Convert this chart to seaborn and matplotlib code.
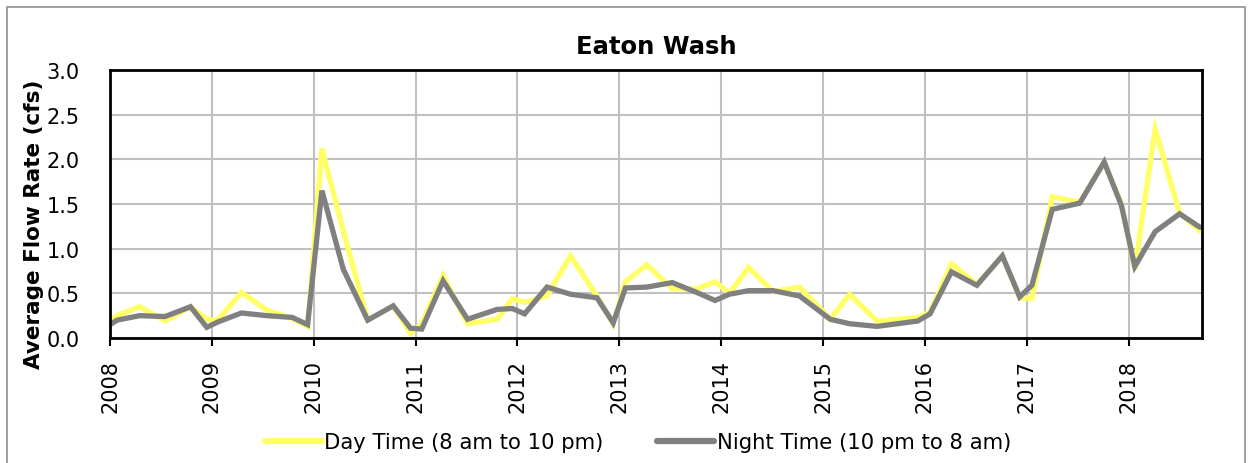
import matplotlib
matplotlib.use("Agg")
import matplotlib.pyplot as plt
from matplotlib.patches import Rectangle
import numpy as np
import pandas as pd
import seaborn as sns

# Sampling dates (decimal years)
dates = [
    2008.00, 2008.07, 2008.29, 2008.54, 2008.79, 2008.95,
    2009.06, 2009.29, 2009.54, 2009.79, 2009.94,
    2010.08, 2010.29, 2010.53, 2010.78, 2010.95,
    2011.06, 2011.27, 2011.51, 2011.80, 2011.95,
    2012.07, 2012.29, 2012.52, 2012.78, 2012.94,
    2013.06, 2013.27, 2013.52, 2013.76, 2013.94,
    2014.08, 2014.27, 2014.51, 2014.77,
    2015.07, 2015.26, 2015.53, 2015.93,
    2016.05, 2016.26, 2016.51, 2016.76, 2016.93,
    2017.05, 2017.25, 2017.52, 2017.76, 2017.93,
    2018.06, 2018.26, 2018.50, 2018.70,
]

# Average flow rate (cfs), daytime sampling window
day_flow = [
    0.19, 0.25, 0.35, 0.19, 0.35, 0.21,
    0.20, 0.51, 0.31, 0.22, 0.13,
    2.12, 1.20, 0.20, 0.36, 0.05,
    0.16, 0.70, 0.16, 0.21, 0.44,
    0.40, 0.47, 0.92, 0.47, 0.16,
    0.63, 0.82, 0.55, 0.55, 0.63,
    0.50, 0.79, 0.52, 0.57,
    0.21, 0.49, 0.19, 0.23,
    0.29, 0.83, 0.60, 0.92, 0.45,
    0.44, 1.58, 1.52, 1.97, 1.50,
    0.77, 2.34, 1.40, 1.20,
]

# Average flow rate (cfs), nighttime sampling window
night_flow = [
    0.15, 0.20, 0.25, 0.24, 0.35, 0.12,
    0.18, 0.28, 0.25, 0.23, 0.15,
    1.65, 0.77, 0.20, 0.36, 0.11,
    0.10, 0.64, 0.21, 0.32, 0.33,
    0.27, 0.57, 0.49, 0.45, 0.17,
    0.56, 0.57, 0.62, 0.51, 0.42,
    0.49, 0.53, 0.53, 0.47,
    0.21, 0.16, 0.13, 0.19,
    0.27, 0.74, 0.59, 0.92, 0.46,
    0.59, 1.44, 1.51, 1.97, 1.48,
    0.80, 1.19, 1.39, 1.24,
]

series_names = ["Day Time (8 am to 10 pm)", "Night Time (10 pm to 8 am)"]
series_colors = ["#FFFF66", "#808080"]
year_ticks = list(range(2008, 2019))
y_ticks = [0.0, 0.5, 1.0, 1.5, 2.0, 2.5, 3.0]

df = pd.DataFrame({
    "date": dates * 2,
    "flow": day_flow + night_flow,
    "series": [series_names[0]] * len(dates) + [series_names[1]] * len(dates),
})

sns.set_theme(style="white")
plt.rcParams["font.family"] = ["DejaVu Sans"]
plt.rcParams["text.color"] = "black"
plt.rcParams["axes.labelcolor"] = "black"
plt.rcParams["xtick.color"] = "black"
plt.rcParams["ytick.color"] = "black"

fig = plt.figure(figsize=(12.52, 4.64), dpi=100)
ax = fig.add_axes([110 / 1252, 1 - 339 / 464, (1202 - 110) / 1252, (339 - 71) / 464])

sns.lineplot(
    data=df, x="date", y="flow", hue="series",
    hue_order=series_names, palette=series_colors,
    estimator=None, errorbar=None, linewidth=3.8, ax=ax,
    solid_joinstyle="miter",
)

ax.set_xlim(2008, 2018.72)
ax.set_ylim(0, 3.0)
ax.set_xticks(year_ticks)
ax.set_xticklabels([str(y) for y in year_ticks], rotation=90, fontsize=15)
ax.set_yticks(y_ticks)
ax.set_yticklabels([f"{v:.1f}" for v in y_ticks], fontsize=15)
ax.tick_params(axis="x", direction="out", length=6, width=1.5, color="black", pad=9, bottom=True)
ax.tick_params(axis="y", length=0, pad=22)

ax.grid(True, color="#C0C0C0", linewidth=1.5)
ax.set_axisbelow(True)
for side in ["left", "bottom", "top", "right"]:
    ax.spines[side].set_visible(True)
    ax.spines[side].set_color("black")
    ax.spines[side].set_linewidth(2)

ax.set_xlabel("")
ax.set_ylabel("Average Flow Rate (cfs)", fontsize=15.5, fontweight="bold")
ax.yaxis.set_label_coords((44 - 110) / 1092, (339 - 224) / 268)
ax.set_title("Eaton Wash", fontsize=17.5, fontweight="bold", pad=12)

handles, labels = ax.get_legend_handles_labels()
for h in handles:
    h.set_linewidth(4.5)
ax.legend(
    handles, labels, loc="center", bbox_to_anchor=(0.5 + 12 / 1252, 1 - 443 / 464),
    bbox_transform=fig.transFigure, ncol=2, frameon=False,
    handlelength=2.7, handletextpad=0.1, columnspacing=2.55,
    prop={"family": "DejaVu Sans", "size": 15.2},
)

# Chart area border
fig.patches.append(Rectangle((7 / 1252, -0.02), (1245 - 7) / 1252, 1 - 8 / 464 + 0.02,
                             transform=fig.transFigure, fill=False,
                             edgecolor="#909090", linewidth=1.2))

fig.savefig("out.png", dpi=100)
